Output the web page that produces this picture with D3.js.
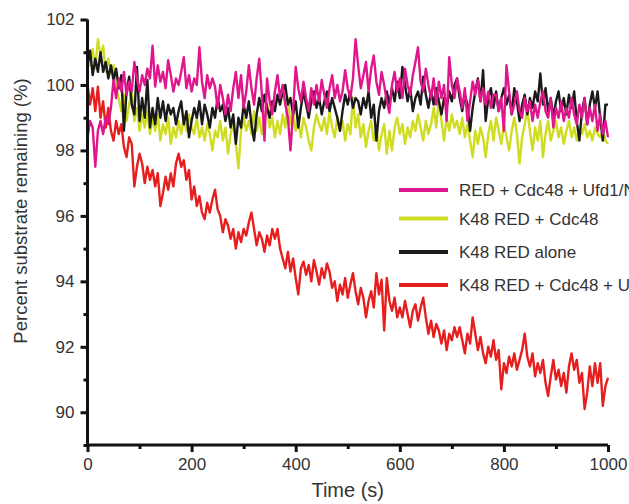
<!DOCTYPE html>
<html>
<head>
<meta charset="utf-8">
<script src="https://cdn.jsdelivr.net/npm/d3@7"></script>
<style>
  body { margin: 0; background: #fff; }
  svg { font-family: "Liberation Sans", Arial, sans-serif; }
  .series { fill: none; stroke-width: 2.4; stroke-linejoin: round; }
</style>
</head>
<body>
<svg id="chart" width="629" height="504"></svg>
<script>
// Time in seconds, one sample every 5 s
const times = d3.range(0, 1001, 5);

const redValues = [
  100.0, 99.4, 99.9, 99.2, 99.95, 99.0, 99.5, 98.7, 99.3, 98.6,
  98.3, 98.9, 98.5, 98.8, 98.1, 97.8, 98.4, 98.2, 96.9, 97.5,
  97.9, 97.6, 97.0, 97.5, 97.1, 97.4, 96.9, 97.3, 96.3, 96.7,
  97.2, 96.8, 97.3, 96.9, 97.6, 97.9, 97.5, 97.7, 97.1, 97.4,
  96.5, 96.9, 96.3, 96.6, 96.1, 95.9, 96.4, 96.1, 96.5, 96.8,
  96.2, 96.0, 95.5, 95.9, 95.7, 95.3, 95.6, 95.0, 95.5, 95.2,
  95.6, 95.4, 95.8, 96.1, 95.6, 95.1, 95.5, 95.3, 94.9, 95.4,
  95.1, 95.6, 95.3, 95.6, 95.0, 94.7, 94.4, 94.9, 94.3, 94.7,
  94.1, 93.6, 94.4, 94.6, 94.2, 94.5, 94.0, 94.65, 94.3, 93.9,
  94.4, 94.1, 94.55, 94.3, 93.8, 94.0, 93.4, 93.9, 93.6, 94.1,
  93.5, 93.9, 94.25, 93.7, 93.3, 93.8, 93.5, 92.9, 93.4, 93.7,
  93.2, 94.25, 93.6, 94.05, 92.5, 94.1, 93.4, 93.1, 93.5, 92.9,
  93.2, 92.9, 93.4, 93.0, 92.6, 93.1, 93.3, 92.8, 93.2, 93.5,
  92.9, 92.4, 92.8, 92.3, 92.7, 92.5, 92.1, 92.5, 91.9, 92.4,
  92.2, 92.6, 92.3, 92.6, 92.2, 91.8, 92.4, 92.1, 92.9, 92.4,
  91.9, 92.3, 91.8, 91.5, 92.0, 91.7, 92.2, 91.6, 91.9, 90.7,
  91.5, 91.2, 91.7, 91.4, 91.8, 91.3, 91.6, 91.9, 92.4, 91.7,
  91.4, 91.8, 91.1, 91.5, 91.2, 91.6, 90.9, 90.5, 91.1, 91.6,
  91.0, 91.3, 90.8, 91.2, 90.6, 91.4, 91.8, 91.3, 91.6, 90.9,
  91.2, 90.1, 90.6, 91.4, 90.8, 91.5, 90.9, 91.5, 90.2, 90.8,
  91.05
];

const blackValues = [
  100.6, 101.05, 100.3, 100.8, 100.4, 101.0, 100.4, 100.7, 100.2, 100.6,
  100.15, 100.5, 99.9, 100.3, 98.6, 99.8, 100.25, 99.4, 99.1, 100.55,
  98.9, 99.6, 99.0, 100.15, 98.7, 99.3, 98.8, 99.6, 99.0, 99.5,
  98.9, 99.4, 99.1, 99.3, 98.8, 99.2, 99.5, 98.8, 99.2, 98.4,
  98.9, 99.3, 99.0, 99.5, 98.8, 99.4, 99.1, 98.7, 99.3, 99.0,
  99.6, 99.2, 99.4, 98.9, 99.3, 98.7, 99.1, 98.2, 99.0, 98.7,
  99.4, 99.0, 99.5, 98.8, 98.3, 99.1, 99.6, 99.2, 99.7, 99.3,
  99.0, 99.5, 99.2, 99.7, 99.4, 99.8, 100.0, 99.4, 99.6, 99.1,
  99.5, 98.7, 99.3, 99.8, 99.4, 99.0, 99.5, 99.8, 99.3, 99.6,
  99.1, 99.5, 99.8, 99.2, 99.6, 99.3, 99.0, 98.6, 99.2, 99.7,
  99.4, 99.8, 99.3, 99.6, 99.5, 99.1, 99.6, 99.3, 99.8, 99.0,
  99.4, 98.3, 99.2, 99.6, 99.3, 99.8, 99.4, 99.9, 99.5, 100.1,
  99.6, 100.55, 100.0, 99.5, 99.9, 99.2, 99.6, 99.8, 99.4, 100.25,
  99.7, 99.3, 99.8, 99.4, 99.9, 99.5, 99.1, 99.6, 99.3, 99.8,
  99.5, 100.0, 100.2, 99.6, 99.2, 99.7, 99.4, 98.6, 99.3, 99.8,
  100.2, 99.5, 100.45, 98.9, 99.6, 99.9, 99.3, 99.8, 99.2, 99.6,
  99.9, 99.4, 99.7, 99.1, 99.9, 99.5, 98.9, 99.4, 99.7, 99.1,
  99.6, 99.3, 99.8, 99.5, 100.35, 99.4, 99.9, 99.2, 99.6, 99.0,
  99.5, 99.8, 99.2, 99.6, 99.1, 99.7, 99.3, 99.8, 98.9, 98.3,
  99.2, 99.6, 98.8, 99.4, 99.8, 99.3, 99.8, 99.0, 98.3, 99.4,
  99.4
];

const pinkValues = [
  98.4, 98.9, 98.7, 97.5, 98.6, 98.9, 98.5, 99.0, 98.8, 99.3,
  100.15, 99.6, 100.2, 99.8, 100.4, 99.7, 100.1, 99.8, 100.7, 100.2,
  99.8, 100.3, 100.0, 100.5, 100.2, 101.2, 99.95, 100.6, 100.1, 100.4,
  99.9, 100.76, 100.3, 99.8, 100.2, 100.0, 100.4, 100.85, 99.9, 100.3,
  99.8, 100.2, 100.0, 101.15, 100.1, 99.6, 100.3, 99.9, 100.2, 99.95,
  99.3, 100.0, 99.6, 99.1, 99.7, 99.2, 99.9, 100.4, 99.6, 100.3,
  99.3, 99.8, 100.6, 99.9, 99.4, 100.2, 100.8, 99.7, 98.3, 100.2,
  99.5, 99.1, 99.8, 100.3, 99.6, 100.0, 99.4, 99.0, 98.0, 99.2,
  100.55, 99.9, 99.5, 100.1, 99.6, 99.2, 99.9, 99.4, 100.0, 99.5,
  100.15, 99.7, 99.3, 99.9, 100.3, 99.6, 100.0, 99.5, 99.8, 100.45,
  99.9, 99.6, 100.2, 101.4, 100.6, 99.9, 100.3, 100.7, 99.8, 100.5,
  100.9, 100.1, 99.7, 100.4, 100.0, 99.5, 99.15, 100.0, 100.4, 99.8,
  100.2, 99.6, 100.5, 100.0, 99.7, 100.3, 100.7, 101.15, 100.1, 99.8,
  100.5, 100.0, 99.6, 100.2, 99.4, 100.1, 99.6, 100.0, 98.9, 100.85,
  100.0, 99.6, 100.2, 99.8, 99.3, 99.9, 98.9, 99.5, 100.1, 99.7,
  100.15, 99.5, 99.9, 99.4, 99.8, 99.3, 99.7, 99.7, 99.2, 99.6,
  98.6, 100.6, 99.8, 99.1, 99.4, 99.8, 99.2, 99.0, 99.6, 99.2,
  99.5, 98.9, 99.4, 99.0, 99.5, 99.8, 99.2, 99.0, 99.6, 98.7,
  99.3, 99.0, 99.5, 98.9, 99.3, 99.0, 99.6, 99.1, 98.8, 99.4,
  99.0, 99.6, 98.8, 99.3, 98.9, 99.4, 98.6, 99.1, 98.5, 98.9,
  98.4, 99.2
];

const yellowValues = [
  101.0, 100.6, 101.1, 100.5, 101.4, 100.9, 101.2, 100.4, 100.8, 100.35,
  100.6, 99.9, 99.6, 99.2, 99.7, 98.9, 99.4, 99.85, 98.9, 99.3,
  98.6, 99.1, 98.7, 99.2, 98.5, 99.0, 98.6, 99.1, 98.3, 98.8,
  98.5, 99.0, 98.2, 98.7, 98.4, 98.9, 98.5, 99.0, 98.6, 99.1,
  98.7, 98.5, 99.0, 98.4, 98.7, 98.3, 98.8, 98.5, 98.0, 98.6,
  98.4, 98.9, 98.3, 98.7, 97.9, 98.5, 98.8, 98.2, 97.45, 98.6,
  99.0, 98.6, 98.9, 98.5, 99.2, 98.6, 99.0, 98.5, 98.9, 99.45,
  98.7, 99.0, 98.4, 98.9, 98.5, 99.1, 98.7, 99.6, 98.8, 99.2,
  98.6, 98.9, 98.4, 99.0, 98.7, 98.3, 98.0, 98.7, 99.1, 98.8,
  98.6, 99.0, 98.5, 99.2, 98.7, 98.4, 99.0, 98.6, 98.9, 98.3,
  98.8, 98.5, 99.6, 98.7, 99.1, 98.4, 98.8, 98.1, 98.6, 98.9,
  98.3, 98.7, 98.0, 98.5, 98.8, 97.9, 98.6, 98.0, 98.7, 99.0,
  98.5, 98.8, 98.2, 98.7, 98.4, 98.9, 98.6, 99.1, 98.7, 98.3,
  98.9, 98.5, 98.8, 99.3, 98.7, 99.6, 98.9, 98.3, 99.0, 98.6,
  99.1, 98.7, 98.9, 98.5, 99.0, 98.4, 98.8, 98.3, 97.8, 98.6,
  98.2, 98.7, 98.4, 97.8, 98.5, 98.9, 98.3, 99.0, 98.6, 98.2,
  98.8, 98.4, 98.0, 98.6, 99.0, 98.5, 97.6, 98.4, 98.8, 99.25,
  98.6, 98.0, 98.7, 98.3, 98.9, 97.8, 98.5, 98.9, 98.3, 98.6,
  98.9, 98.4, 98.7, 98.2, 98.6, 98.9, 98.4, 98.7, 98.3, 98.6,
  98.5, 98.8, 98.4, 98.6, 98.3, 98.7, 98.5, 98.4, 98.6, 98.3,
  98.2
];

const legendLabels = [
  "RED + Cdc48 + Ufd1/Npl4",
  "K48 RED + Cdc48",
  "K48 RED alone",
  "K48 RED + Cdc48 + Ufd1/Npl4"
];
const legendColors = ["#e0168c", "#cfdc22", "#1a1a1a", "#e61e1e"];

const yTicks = [90, 92, 94, 96, 98, 100, 102];
const yMinor = [89, 91, 93, 95, 97, 99, 101];
const xTicks = [0, 200, 400, 600, 800, 1000];
const xMinor = [100, 300, 500, 700, 900];

const svg = d3.select("#chart");

const x = d3.scaleLinear().domain([0, 1000]).range([87.5, 608]);
const y = d3.scaleLinear().domain([89, 102]).range([445, 19.5]);

// Series (drawn back to front)
const series = [
  { values: redValues, color: legendColors[3] },
  { values: yellowValues, color: legendColors[1] },
  { values: blackValues, color: legendColors[2] },
  { values: pinkValues, color: legendColors[0] }
];

const line = d3.line()
    .x((d, i) => x(times[i]))
    .y(d => y(d));

svg.append("g")
  .selectAll("path")
  .data(series)
  .enter().append("path")
    .attr("class", "series")
    .attr("stroke", d => d.color)
    .attr("d", d => line(d.values));

// Axes
const axisColor = "#111";
const labelColor = "#333";

const yAxis = svg.append("g")
    .attr("transform", `translate(${x(0)},0)`)
    .call(d3.axisLeft(y).tickValues(yTicks).tickSize(7).tickPadding(6).tickFormat(d3.format("d")));
const yAxisMinor = svg.append("g")
    .attr("transform", `translate(${x(0)},0)`)
    .call(d3.axisLeft(y).tickValues(yMinor).tickSize(4).tickFormat(""));

const xAxis = svg.append("g")
    .attr("transform", `translate(0,${y(89)})`)
    .call(d3.axisBottom(x).tickValues(xTicks).tickSize(7).tickPadding(6).tickFormat(d3.format("d")));
const xAxisMinor = svg.append("g")
    .attr("transform", `translate(0,${y(89)})`)
    .call(d3.axisBottom(x).tickValues(xMinor).tickSize(4).tickFormat(""));

[yAxis, yAxisMinor, xAxis, xAxisMinor].forEach(g => {
  g.select(".domain").attr("stroke", axisColor).attr("stroke-width", 3);
  g.selectAll(".tick line").attr("stroke", axisColor).attr("stroke-width", 3);
  g.selectAll(".tick text")
    .attr("fill", labelColor)
    .style("font-size", "17px")
    .style("font-family", "'Liberation Sans', Arial, sans-serif");
});
yAxis.select(".domain").attr("d", `M0,${y(89)}V${y(102)}`);
yAxisMinor.select(".domain").remove();
xAxisMinor.select(".domain").remove();
xAxis.select(".domain").attr("d", `M${x(0)},0H${x(1000)}`);

// Axis titles
svg.append("text")
    .attr("transform", "translate(27,211) rotate(-90)")
    .attr("text-anchor", "middle")
    .attr("fill", labelColor)
    .style("font-size", "18.5px")
    .text("Percent substrate remaining (%)");

svg.append("text")
    .attr("x", (x(0) + x(1000)) / 2)
    .attr("y", 497)
    .attr("text-anchor", "middle")
    .attr("fill", labelColor)
    .style("font-size", "20px")
    .text("Time (s)");

// Legend
const legendY = [190, 218.5, 252, 285];
const legend = svg.append("g")
  .selectAll("g")
  .data(legendLabels)
  .enter().append("g")
    .attr("transform", (d, i) => `translate(399,${legendY[i]})`);

legend.append("line")
    .attr("x1", 0).attr("x2", 49)
    .attr("stroke", (d, i) => legendColors[i])
    .attr("stroke-width", 4);

legend.append("text")
    .attr("x", 60)
    .attr("y", 6)
    .attr("fill", labelColor)
    .style("font-size", "17px")
    .text(d => d);
</script>
</body>
</html>
